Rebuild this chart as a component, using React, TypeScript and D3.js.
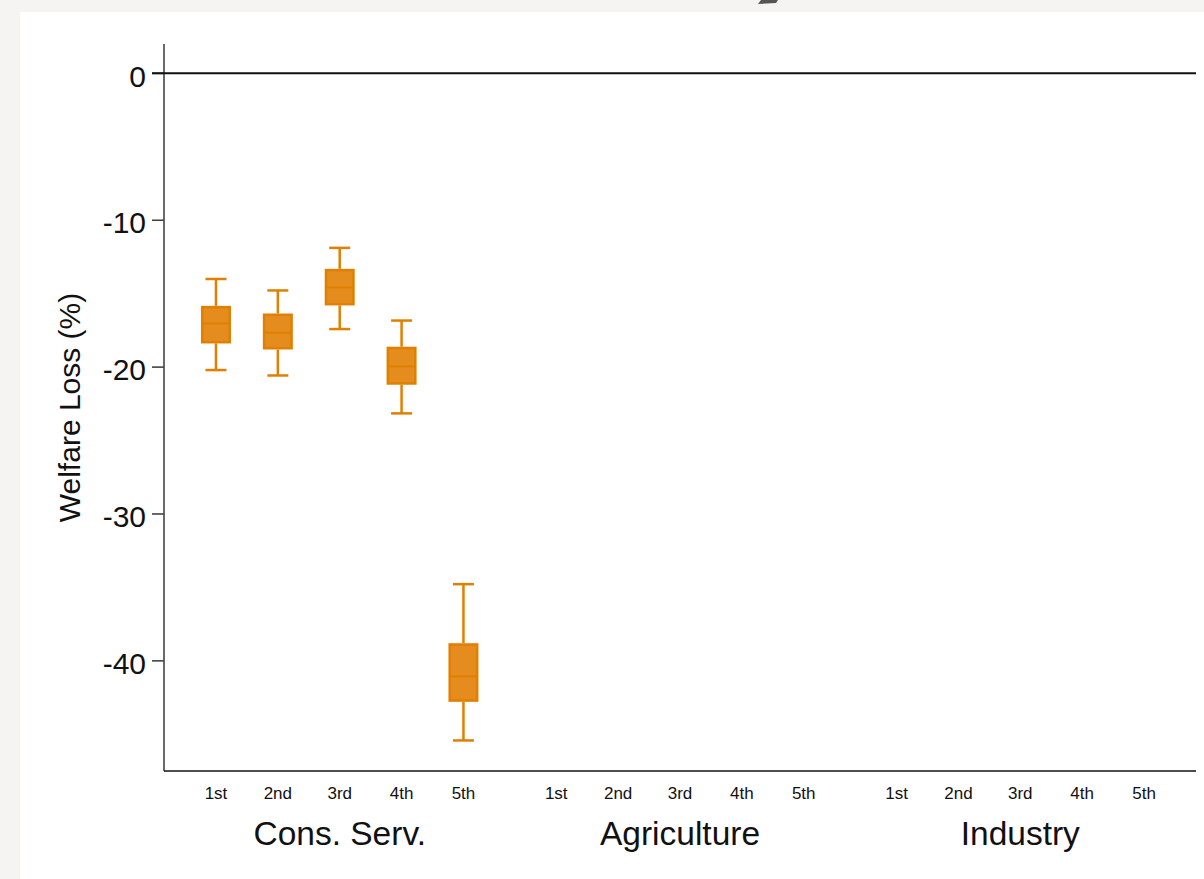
import React from "react";
import * as d3 from "d3";

const groups = ["Cons. Serv.", "Agriculture", "Industry"];
const quintiles = ["1st", "2nd", "3rd", "4th", "5th"];
const yTicks = [0, -10, -20, -30, -40];

// Cons. Serv. boxes: whisker low, Q1, median, Q3, whisker high
const consLow = [-20.2, -20.57, -17.41, -23.15, -45.42];
const consQ1 = [-18.39, -18.8, -15.8, -21.2, -42.79];
const consMed = [-17.03, -17.66, -14.58, -19.95, -41.06];
const consQ3 = [-15.83, -16.35, -13.31, -18.61, -38.8];
const consHigh = [-14.0, -14.78, -11.88, -16.83, -34.78];

const W = 1204;
const H = 879;
const left = 164;
const right = 1196;
const top = 44;
const bottom = 771;

const y = d3.scaleLinear().domain([2.0, -47.5]).range([top, bottom]);
const x = d3.scaleLinear().domain([-0.84, 15.84]).range([left, right]);
const slot = (g: number, q: number) => g * 5.5 + q;

const font = "'Liberation Sans', Arial, Helvetica, sans-serif";
const fillC = "#e58c1e";
const strokeC = "#e07f00";

export default function App() {
  const boxW = 30;
  const capW = 21;
  const boxes = quintiles.map((q, i) => ({
    cx: x(slot(0, i)),
    low: consLow[i],
    q1: consQ1[i],
    med: consMed[i],
    q3: consQ3[i],
    high: consHigh[i],
  }));
  return (
    <div style={{ position: "absolute", left: 0, top: 0 }}>
      <svg width={W} height={H} style={{ display: "block" }}>
        <rect x={0} y={0} width={W} height={H} fill="#f5f4f2" />
        <rect x={20} y={12} width={W - 20} height={H - 12} fill="#ffffff" />
        <path d="M758,4 L776,3 L778,0 L761,0 Z" fill="#555" />
        {/* y axis */}
        <line x1={left} x2={left} y1={top} y2={bottom} stroke="#444" strokeWidth={1.6} />
        {yTicks.map((t) => (
          <g key={t}>
            <line x1={left - 12} x2={left} y1={y(t)} y2={y(t)} stroke="#444" strokeWidth={1.6} />
            <text
              x={146}
              y={y(t)}
              dy="0.44em"
              textAnchor="end"
              fontFamily={font}
              fontSize={30}
              fill="#111"
            >
              {t}
            </text>
          </g>
        ))}
        <text
          transform={`translate(80,${(top + bottom) / 2}) rotate(-90)`}
          textAnchor="middle"
          fontFamily={font}
          fontSize={30}
          fill="#111"
        >
          Welfare Loss (%)
        </text>
        {/* zero line */}
        <line x1={left - 12} x2={right} y1={y(0)} y2={y(0)} stroke="#111" strokeWidth={2} />
        {/* bottom axis */}
        <line x1={left} x2={right} y1={bottom} y2={bottom} stroke="#111" strokeWidth={1.6} />
        {groups.map((g, gi) => (
          <g key={g}>
            {quintiles.map((q, qi) => (
              <text
                key={q}
                x={x(slot(gi, qi))}
                y={799}
                textAnchor="middle"
                fontFamily={font}
                fontSize={17}
                fill="#111"
              >
                {q}
              </text>
            ))}
            <text
              x={x(slot(gi, 2))}
              y={845}
              textAnchor="middle"
              fontFamily={font}
              fontSize={33.5}
              fill="#111"
            >
              {g}
            </text>
          </g>
        ))}
        {/* boxes */}
        {boxes.map((b, i) => (
          <g key={i}>
            <line x1={b.cx} x2={b.cx} y1={y(b.high)} y2={y(b.q3)} stroke={strokeC} strokeWidth={2.5} />
            <line x1={b.cx} x2={b.cx} y1={y(b.q1)} y2={y(b.low)} stroke={strokeC} strokeWidth={2.5} />
            <line x1={b.cx - capW / 2} x2={b.cx + capW / 2} y1={y(b.high)} y2={y(b.high)} stroke={strokeC} strokeWidth={2.5} />
            <line x1={b.cx - capW / 2} x2={b.cx + capW / 2} y1={y(b.low)} y2={y(b.low)} stroke={strokeC} strokeWidth={2.5} />
            <rect
              x={b.cx - boxW / 2 + 1.25}
              y={y(b.q3) + 1.25}
              width={boxW - 2.5}
              height={y(b.q1) - y(b.q3) - 2.5}
              fill={fillC}
              stroke={strokeC}
              strokeWidth={2.5}
            />
            <line x1={b.cx - boxW / 2 + 1} x2={b.cx + boxW / 2 - 1} y1={y(b.med)} y2={y(b.med)} stroke={strokeC} strokeWidth={2} />
          </g>
        ))}
      </svg>
    </div>
  );
}
